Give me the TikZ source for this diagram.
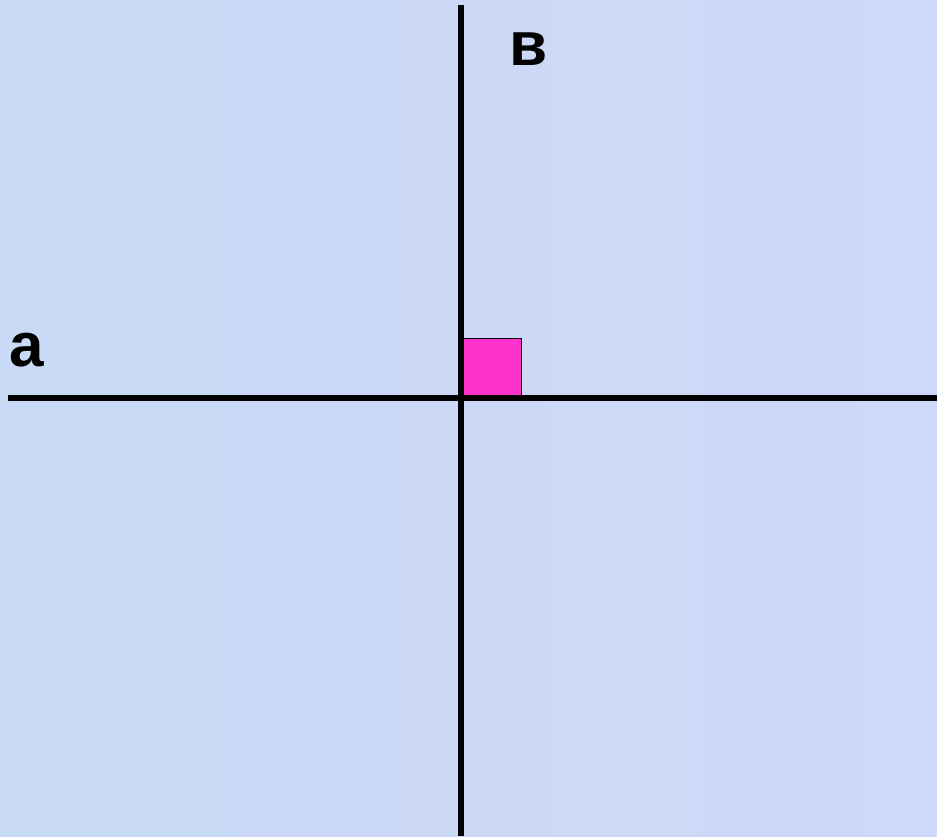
\documentclass[tikz,border=0pt]{standalone}
\usepackage{fontspec}
\setmainfont{Liberation Sans}
\definecolor{bgA}{RGB}{200,218,246}
\definecolor{bgB}{RGB}{206,216,248}
\definecolor{sqfill}{RGB}{255,51,204}
\tikzset{
  axisline/.style={line width=6pt, black},
  lbl/.style={font=\fontsize{62}{62}\selectfont\bfseries, inner sep=0pt, anchor=base west},
  rightsq/.style={draw=black, line width=1pt, fill=sqfill}
}
\begin{document}
\begin{tikzpicture}[x=1pt,y=1pt]
  \shade[left color=bgA, right color=bgB] (0,0) rectangle (937,836);
  \useasboundingbox (0,0) rectangle (937,836);
  \coordinate (vtop) at (461,831);
  \coordinate (vbot) at (461,0);
  \coordinate (hleft) at (8,437.5);
  \coordinate (hright) at (937,437.5);
  \node[rightsq, minimum size=59pt, inner sep=0pt, anchor=south west] (sq) at (462,437.5) {};
  \draw[axisline] (vtop) -- (vbot);
  \draw[axisline] (hleft) -- (hright);
  \node[lbl] (lb) at (509,770) {в};
  \node[lbl] (la) at (9,469) {a};
\end{tikzpicture}
\end{document}
